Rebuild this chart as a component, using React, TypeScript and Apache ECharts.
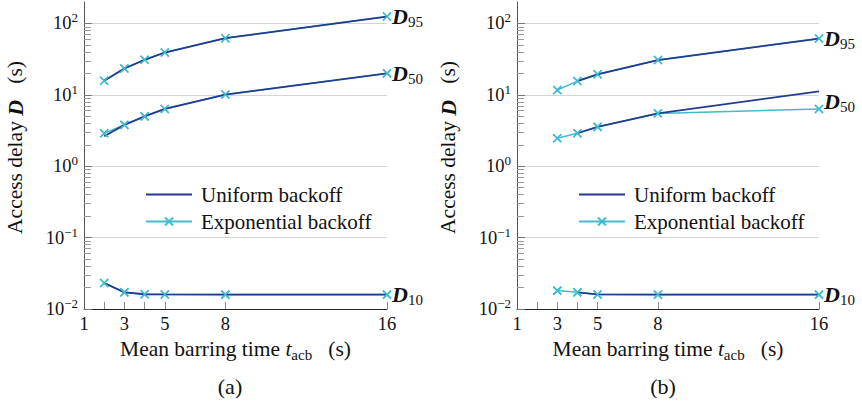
import React, { useEffect, useRef } from 'react';
import * as echarts from 'echarts';

// ---------- data ----------
const xTickValues = [2, 3, 4, 5, 8, 16];
const xLabelValues = [1, 3, 5, 8, 16];
const yDecades = [0.01, 0.1, 1, 10, 100];
const yMinorTicks = [
  0.02, 0.03, 0.04, 0.05, 0.06, 0.07, 0.08, 0.09,
  0.2, 0.3, 0.4, 0.5, 0.6, 0.7, 0.8, 0.9,
  2, 3, 4, 5, 6, 7, 8, 9,
  20, 30, 40, 50, 60, 70, 80, 90,
];

// (a)
const aX = [2, 3, 4, 5, 8, 16];
const aExpD95 = [15.8, 23.4, 31, 39.2, 62.3, 125];
const aUniD95 = [15.8, 23.4, 31, 39.2, 62.3, 125];
const aExpD50 = [2.9, 3.8, 5.0, 6.35, 10.1, 20];
const aUniD50 = [2.63, 3.8, 5.0, 6.35, 10.1, 20];
const aExpD10 = [0.0231, 0.0171, 0.0161, 0.016, 0.0159, 0.0159];
const aUniD10 = [0.0231, 0.0171, 0.0161, 0.016, 0.0159, 0.0159];

// (b)
const bExpX = [3, 4, 5, 8, 16];
const bUniX = [4, 5, 8, 16];
const bExpD95 = [11.7, 15.6, 19.4, 30.7, 61.5];
const bUniD95 = [15.6, 19.4, 30.7, 61.5];
const bExpD50 = [2.47, 2.9, 3.56, 5.5, 6.35];
const bUniD50 = [2.9, 3.56, 5.5, 11.2];
const bExpD10 = [0.0181, 0.0171, 0.016, 0.0159, 0.0159];
const bUniD10 = [0.0171, 0.016, 0.0159, 0.0159];

const legendNames = ['Uniform backoff', 'Exponential backoff'];
const subplotLabels = ['(a)', '(b)'];

// ---------- styles ----------
const SERIF = 'Liberation Serif';
const DARK = '#1f3c8f';
const CYAN = '#42bbd0';
const TEXT = '#111';
const XMARK = 'path://M0,0L10,10M10,0L0,10';

const pairs = (xs: number[], ys: number[]) => xs.map((x, i) => [x, ys[i]]);

const subRich = {
  d: { fontSize: 22, fontStyle: 'italic', fontWeight: 'bold', fontFamily: SERIF, color: TEXT, lineHeight: 26 },
  s: { fontSize: 15, fontFamily: SERIF, color: TEXT, lineHeight: 14, verticalAlign: 'bottom' },
};

const supRich = {
  b: { fontSize: 18.5, fontFamily: SERIF, color: TEXT, lineHeight: 24 },
  s: { fontSize: 13, fontFamily: SERIF, color: TEXT, lineHeight: 13, verticalAlign: 'top' },
};

const nameRich = {
  n: { fontSize: 21.5, fontFamily: SERIF, color: TEXT, lineHeight: 26 },
  i: { fontSize: 21.5, fontStyle: 'italic', fontFamily: SERIF, color: TEXT, lineHeight: 26 },
  d: { fontSize: 22, fontStyle: 'italic', fontWeight: 'bold', fontFamily: SERIF, color: TEXT, lineHeight: 26 },
  sub: { fontSize: 15, fontFamily: SERIF, color: TEXT, lineHeight: 14, verticalAlign: 'bottom' },
};

function yFormatter(v: number) {
  const e = Math.round(Math.log10(v));
  const es = e < 0 ? '\u2212' + String(-e) : String(e);
  return '{b|10}{s|' + es + '}';
}

function makeX(gi: number) {
  return {
    type: 'value',
    gridIndex: gi,
    min: 1,
    max: 16,
    axisLine: { show: true, lineStyle: { color: '#222', width: 1 } },
    axisTick: { show: true, inside: true, length: 7, lineStyle: { color: '#888' }, customValues: xTickValues },
    axisLabel: { show: true, customValues: xLabelValues, margin: 5, fontSize: 18.5, color: TEXT, fontFamily: SERIF },
    splitLine: { show: false },
    name: '{n|Mean barring time }{i|t}{sub|acb}{n|   (s)}',
    nameLocation: 'middle',
    nameGap: 27,
    nameTextStyle: { rich: nameRich },
  };
}

function makeYMain(gi: number) {
  return {
    type: 'log',
    logBase: 10,
    gridIndex: gi,
    position: 'left',
    min: 0.01,
    max: 200,
    axisLine: { show: true, lineStyle: { color: '#555', width: 1 } },
    axisTick: { show: true, inside: true, length: 8, lineStyle: { color: '#777' }, customValues: yDecades },
    axisLabel: { show: true, customValues: yDecades, formatter: yFormatter, rich: supRich, margin: 6 },
    splitLine: { show: true, lineStyle: { color: '#d4d4d4', width: 1 } },
    name: '{n|Access delay }{d|D}{n|   (s)}',
    nameLocation: 'middle',
    nameRotate: 90,
    nameGap: 56,
    nameTextStyle: { rich: nameRich, padding: [0, 0, 0, 16] },
  };
}

function makeYMinor(gi: number) {
  return {
    type: 'log',
    logBase: 10,
    gridIndex: gi,
    position: 'left',
    min: 0.01,
    max: 200,
    axisLine: { show: false },
    axisTick: { show: true, inside: true, length: 7, lineStyle: { color: '#999' }, customValues: yMinorTicks },
    axisLabel: { show: false },
    splitLine: { show: false },
  };
}

function expLine(gi: number, xs: number[], ys: number[], label: string, offsetY = 0) {
  return {
    type: 'line',
    name: 'Exponential backoff',
    xAxisIndex: gi,
    yAxisIndex: gi * 2,
    data: pairs(xs, ys),
    symbol: XMARK,
    symbolSize: 8,
    clip: false,
    z: 2,
    lineStyle: { color: CYAN, width: 1.5 },
    itemStyle: { color: CYAN, borderColor: CYAN, borderWidth: 1.5 },
    endLabel: {
      show: true,
      formatter: '{d|D}{s|' + label + '}',
      rich: subRich,
      distance: 5,
      offset: [0, offsetY],
    },
    emphasis: { disabled: true },
  };
}

function uniLine(gi: number, xs: number[], ys: number[]) {
  return {
    type: 'line',
    name: 'Uniform backoff',
    xAxisIndex: gi,
    yAxisIndex: gi * 2,
    data: pairs(xs, ys),
    symbol: 'none',
    clip: false,
    z: 3,
    lineStyle: { color: DARK, width: 1.8 },
    itemStyle: { color: DARK },
    emphasis: { disabled: true },
  };
}

function markers(gi: number, sets: number[][][]) {
  return {
    type: 'scatter',
    name: 'markers' + gi,
    xAxisIndex: gi,
    yAxisIndex: gi * 2,
    data: sets.flat(),
    symbol: XMARK,
    symbolSize: 8,
    clip: false,
    z: 4,
    silent: true,
    itemStyle: { color: CYAN, borderColor: CYAN, borderWidth: 1.5, opacity: 1 },
  };
}

function makeLegend(left: number) {
  return {
    left,
    top: 184,
    padding: 0,
    orient: 'vertical',
    itemWidth: 46,
    itemHeight: 10,
    itemGap: 6,
    selectedMode: false,
    data: [
      { name: legendNames[0], itemStyle: { opacity: 0 } },
      { name: legendNames[1] },
    ],
    textStyle: { fontSize: 21, fontFamily: SERIF, color: TEXT, padding: [0, 0, 0, 4] },
  };
}

export default function App() {
  const ref = useRef<HTMLDivElement>(null);

  useEffect(() => {
    if (!ref.current) return;
    const chart = echarts.init(ref.current, null, { renderer: 'svg' });
    const option: any = {
      animation: false,
      backgroundColor: '#ffffff',
      textStyle: { fontFamily: SERIF },
      grid: [
        { left: 84, right: 475, top: 2, bottom: 100, containLabel: false, outerBoundsMode: 'none' },
        { left: 517, right: 43, top: 2, bottom: 100, containLabel: false, outerBoundsMode: 'none' },
      ],
      xAxis: [makeX(0), makeX(1)],
      yAxis: [makeYMain(0), makeYMinor(0), makeYMain(1), makeYMinor(1)],
      legend: [makeLegend(145), makeLegend(578)],
      series: [
        expLine(0, aX, aExpD95, '95'),
        expLine(0, aX, aExpD50, '50'),
        expLine(0, aX, aExpD10, '10'),
        uniLine(0, aX, aUniD95),
        uniLine(0, aX, aUniD50),
        uniLine(0, aX, aUniD10),
        markers(0, [pairs(aX, aExpD95), pairs(aX, aExpD50), pairs(aX, aExpD10)]),
        expLine(1, bExpX, bExpD95, '95'),
        expLine(1, bExpX, bExpD50, '50', -7),
        expLine(1, bExpX, bExpD10, '10'),
        uniLine(1, bUniX, bUniD95),
        uniLine(1, bUniX, bUniD50),
        uniLine(1, bUniX, bUniD10),
        markers(1, [pairs(bExpX, bExpD95), pairs(bExpX, bExpD50), pairs(bExpX, bExpD10)]),
      ],
      graphic: [
        { type: 'text', x: 230, y: 386, style: { text: subplotLabels[0], fontSize: 22, fontFamily: SERIF, fill: TEXT, align: 'center', verticalAlign: 'middle' } },
        { type: 'text', x: 663, y: 386, style: { text: subplotLabels[1], fontSize: 22, fontFamily: SERIF, fill: TEXT, align: 'center', verticalAlign: 'middle' } },
      ],
    };
    chart.setOption(option);
    return () => chart.dispose();
  }, []);

  return (
    <div
      ref={ref}
      style={{ position: 'fixed', left: 0, top: 0, width: 862, height: 409, background: '#fff' }}
    />
  );
}
